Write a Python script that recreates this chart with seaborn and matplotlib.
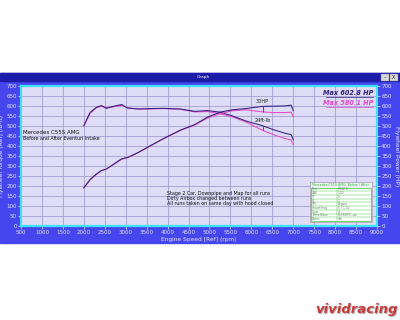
import matplotlib
matplotlib.use("Agg")
import matplotlib.pyplot as plt
import matplotlib.patches as mpatches
import seaborn as sns
import pandas as pd

# ---------------- data ----------------
rpm = [2000, 2150, 2300, 2420, 2540, 2700, 2900, 3050, 3300, 3600, 3900,
       4300, 4650, 4950, 5250, 5550, 5870, 6270, 6550, 6800, 6950, 7000]
torque_after = [501, 567, 592, 601, 587, 597, 606, 588, 584, 586, 587,
                584, 572, 576, 568, 549, 524, 500, 479, 463, 456, 430]
power_after = [191, 232, 259, 277, 284, 307, 335, 342, 367, 402, 436,
               478, 506, 543, 568, 580, 586, 597, 598, 599, 603, 575]
torque_before = [498, 562, 590, 597, 590, 594, 602, 590, 583, 584, 586,
                 582, 569, 571, 560, 544, 519, 477, 454, 437, 429, 405]
power_before = [190, 230, 258, 275, 285, 305, 332, 343, 366, 400, 435,
                476, 504, 538, 560, 575, 580, 569, 566, 566, 568, 545]
runs = ["Before", "After"]
x_ticks = list(range(500, 9001, 500))
y_ticks = list(range(0, 701, 50))
gain_rpm = 6270
legend_rows = [("Run", "5042.0"), ("SAE", "1.02"), ("ST", "5"), ("CF", "1"),
               ("SM", "Engine"), ("Smoothing", "5 / 1.02"), ("Gear", "4"),
               ("Time Base", "CL55DYT...ax"), ("Notes", "4th")]

# ---------------- styling ----------------
DARK = "#32207e"
PINK = "#e848c8"
FRAME = "#4646ee"
TITLEBAR = "#1c1ca8"
PLOTBG = "#dedcf6"
CYAN = "#3ce4fa"
GRID = "#a2a0d2"
TICKTXT = "#e6e6ff"

rows = []
for name, tq, pw in [("Before", torque_before, power_before),
                     ("After", torque_after, power_after)]:
    for r, t, p in zip(rpm, tq, pw):
        rows.append({"rpm": r, "value": t, "run": name, "measure": "Torque"})
        rows.append({"rpm": r, "value": p, "run": name, "measure": "Power"})
df = pd.DataFrame(rows)

fig = plt.figure(figsize=(4, 3.2), dpi=100, facecolor="white")

def fx(px):
    return px / 400.0

def fy(py):
    return 1 - py / 320.0

# window frame (behind axes)
fig.patches.append(mpatches.Rectangle((0, fy(243)), 1, fy(73) - fy(243),
                   transform=fig.transFigure, color=FRAME, zorder=-2))
fig.patches.append(mpatches.Rectangle((0, fy(81)), 1, fy(73) - fy(81),
                   transform=fig.transFigure, color=TITLEBAR, zorder=-1))
fig.text(fx(203), fy(77), "Graph", color="white", fontsize=3.2,
         ha="center", va="center")
for bx, sym in [(381, "\u2013"), (390, "X")]:
    fig.patches.append(mpatches.Rectangle((fx(bx), fy(81)), fx(8), fy(74) - fy(81),
                       transform=fig.transFigure, facecolor="#d8d8d8",
                       edgecolor="#808080", lw=0.3, zorder=1))
    fig.text(fx(bx + 4), fy(77.5), sym, fontsize=3.5, ha="center", va="center",
             color="#202020", zorder=2)

ax = fig.add_axes([fx(21), fy(226), fx(377) - fx(21), fy(85.7) - fy(226)])
ax.set_facecolor(PLOTBG)

pal = {"Before": PINK, "After": DARK}
for meas in ["Torque", "Power"]:
    sns.lineplot(data=df[df.measure == meas], x="rpm", y="value", hue="run",
                 hue_order=runs, palette=pal, estimator=None, lw=0.75,
                 legend=False, ax=ax, zorder=3)

ax.set_xlim(500, 9000)
ax.set_ylim(0, 700)
ax.set_xticks(x_ticks)
ax.set_yticks(y_ticks)
ax.grid(True, color=GRID, lw=0.6)
ax.set_axisbelow(True)
for s in ax.spines.values():
    s.set_color(CYAN)
    s.set_linewidth(1.6)
ax.tick_params(axis="both", labelsize=4, colors=TICKTXT, length=2, width=0.5, pad=1)
ax.set_xlabel("Engine Speed [Ref] (rpm)", fontsize=4.2, color=TICKTXT, labelpad=1.5)
ax.set_ylabel("Flywheel Torque [Ref] (lb-ft)", fontsize=4.2, color=TICKTXT, labelpad=1.5)

ax2 = ax.twinx()
ax2.set_ylim(0, 700)
ax2.set_yticks(y_ticks)
ax2.tick_params(axis="y", labelsize=4, colors=TICKTXT, length=2, width=0.5, pad=1)
for s in ax2.spines.values():
    s.set_visible(False)
ax2.set_ylabel("Flywheel Power (HP)", fontsize=4.2, color=TICKTXT, rotation=-90,
               labelpad=5)

# gain markers
gi = rpm.index(gain_rpm)
ax.vlines(gain_rpm, power_before[gi], power_after[gi], color="#e02020", lw=0.8, zorder=4)
ax.vlines(gain_rpm, torque_before[gi], torque_after[gi], color="#e02020", lw=0.8, zorder=4)
ax.text(gain_rpm, power_after[gi] + 12, "30HP", fontsize=3.6, ha="center",
        va="bottom", color="#202020")
ax.text(gain_rpm, torque_after[gi] + 12, "24ft-lb", fontsize=3.6, ha="center",
        va="bottom", color="#202020")

# notes
fig.text(fx(23), fy(132), "Mercedes C55S AMG", fontsize=4, color="#101010", va="center")
fig.text(fx(23), fy(139), "Before and After Eventuri Intake", fontsize=3.4,
         color="#101010", va="center")
for i, line in enumerate(["Stage 2 Car, Downpipe and Map for all runs",
                          "Dirty Airbox changed between runs",
                          "All runs taken on same day with hood closed"]):
    fig.text(fx(167), fy(193.5 + 5 * i), line, fontsize=3.4, color="#101010", va="center")

fig.text(fx(373), fy(93), "Max 602.8 HP", fontsize=4.7, color=DARK, ha="right",
         va="center", style="italic", fontweight="bold")
fig.text(fx(373), fy(103), "Max 580.1 HP", fontsize=4.7, color=PINK, ha="right",
         va="center", style="italic", fontweight="bold")
fig.lines.append(plt.Line2D([fx(326), fx(373)], [fy(96.5), fy(96.5)], color=DARK, lw=0.5,
                            transform=fig.transFigure))
fig.lines.append(plt.Line2D([fx(326), fx(373)], [fy(106.5), fy(106.5)], color=PINK, lw=0.5,
                            transform=fig.transFigure))

# small run table
GREEN = "#3cc43c"
fig.patches.append(mpatches.Rectangle((fx(310), fy(222)), fx(62), fy(182) - fy(222),
                   transform=fig.transFigure, facecolor="#eeeef8", edgecolor="#909090",
                   lw=0.4, zorder=5))
fig.text(fx(312), fy(184.5), "Mercedes C55S AMG  Before / After", fontsize=2.3,
         color=GREEN, va="center", zorder=6)
top, bottom = 187.5, 221
fig.patches.append(mpatches.Rectangle((fx(311), fy(bottom)), fx(60), fy(top) - fy(bottom),
                   transform=fig.transFigure, facecolor="white", edgecolor=GREEN,
                   lw=0.5, zorder=6))
rh = (bottom - top) / len(legend_rows)
for i, (k, v) in enumerate(legend_rows):
    yy = top + rh * (i + 0.5)
    fig.text(fx(312), fy(yy), k, fontsize=2.2, color="#5a8a5a", va="center", zorder=7)
    fig.text(fx(338), fy(yy), v, fontsize=2.2, color="#5a8a5a", va="center", zorder=7)
    if i > 0:
        fig.lines.append(plt.Line2D([fx(311), fx(371)], [fy(top + rh * i)] * 2,
                                    color=GREEN, lw=0.3, transform=fig.transFigure,
                                    zorder=7))
fig.lines.append(plt.Line2D([fx(337), fx(337)], [fy(top), fy(bottom)], color=GREEN,
                            lw=0.3, transform=fig.transFigure, zorder=7))

# watermark
fig.text(fx(398.5), fy(310.5), "vividracing", fontsize=9.5, color="#b0b0b0", ha="right",
         va="center", style="italic", fontweight="bold")
fig.text(fx(398), fy(310), "vividracing", fontsize=9.5, color="#c83a3a", ha="right",
         va="center", style="italic", fontweight="bold")

fig.savefig("out.png", dpi=100, facecolor="white")
